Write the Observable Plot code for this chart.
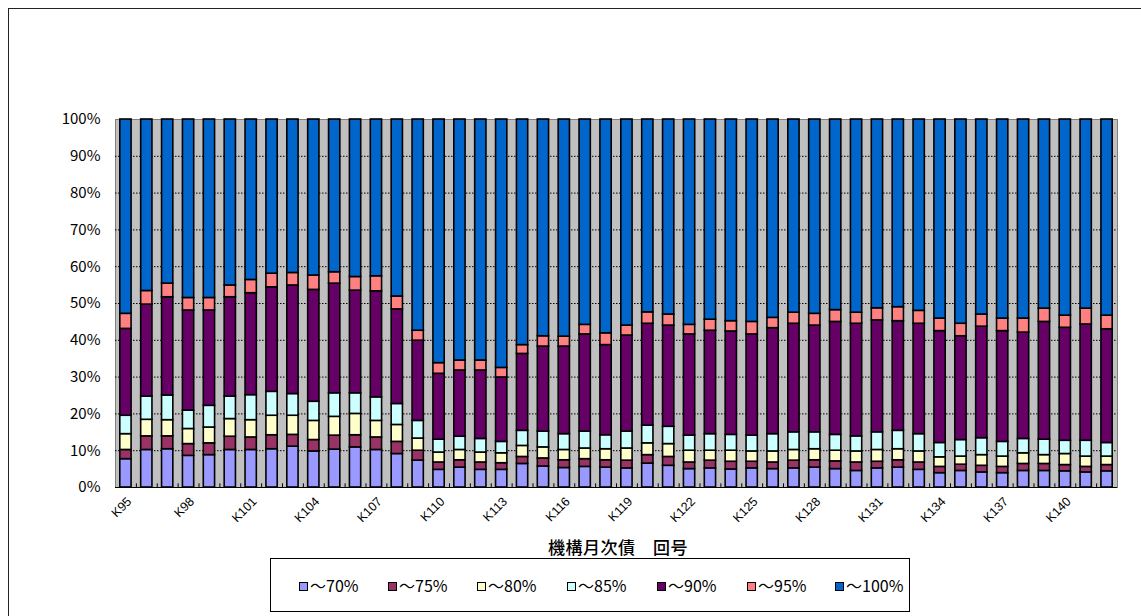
<!DOCTYPE html>
<html>
<head>
<meta charset="utf-8">
<script src="https://cdn.jsdelivr.net/npm/d3@7"></script>
<script src="https://cdn.jsdelivr.net/npm/@observablehq/plot@0.6"></script>
<style>
  html, body { margin:0; padding:0; background:#fff; overflow:hidden; }
  #wrap { position:relative; width:1141px; height:616px; overflow:hidden; }
  #border { position:absolute; left:8px; top:8px; width:1300px; height:800px; border:1px solid #222; box-sizing:border-box; }
  #chart { position:absolute; left:0; top:0; }
  #xtitle { position:absolute; left:418px; width:400px; top:534px; text-align:center;
            font-family:"Noto Sans CJK JP", sans-serif; font-size:17px; font-weight:500; color:#000; letter-spacing:0.5px; }
  #legend { position:absolute; left:270px; top:558px; width:640px; height:54px; border:1px solid #000; box-sizing:border-box; background:#fff; }
  .item { position:absolute; top:16px; font-family:"Noto Sans CJK JP", sans-serif; font-size:16px; color:#000; white-space:nowrap; line-height:20px; }
  .sw { display:inline-block; width:7px; height:7px; border:1px solid #000; margin-right:2px; vertical-align:1px; }
  text.xlab { transform-box: fill-box; transform-origin: 100% 50%; transform: rotate(-45deg); }
</style>
</head>
<body>
<div id="wrap">
  <div id="border"></div>
  <div id="chart"></div>
  <div id="xtitle">機構月次債　回号</div>
  <div id="legend"></div>
</div>
<script>
const categories = ["K95","K96","K97","K98","K99","K100","K101","K102","K103","K104","K105","K106","K107","K108","K109","K110","K111","K112","K113","K114","K115","K116","K117","K118","K119","K120","K121","K122","K123","K124","K125","K126","K127","K128","K129","K130","K131","K132","K133","K134","K135","K136","K137","K138","K139","K140","K141","K142"];
const labeledTicks = ["K95","K98","K101","K104","K107","K110","K113","K116","K119","K122","K125","K128","K131","K134","K137","K140"];
const seriesNames = ["～70%","～75%","～80%","～85%","～90%","～95%","～100%"];
const seriesColors = ["#9999FF","#993366","#FFFFCC","#CCFFFF","#660066","#FF8080","#0066CC"];
const yTicks = [0,10,20,30,40,50,60,70,80,90,100];

// cumulative shares (%): top edge of each band
const upTo70 = [7.7,10.2,10.4,8.6,8.8,10.2,10.2,10.4,11.1,9.8,10.3,10.9,10.2,9.1,7.3,4.8,5.4,4.8,4.8,6.4,5.7,5.3,5.6,5.4,5.2,6.5,5.9,5.0,5.2,4.9,5.2,5.0,5.2,5.4,5.0,4.5,5.2,5.4,4.8,3.9,4.5,4.1,3.9,4.5,4.5,4.4,4.1,4.4];
const upTo75 = [10.2,13.9,13.9,11.8,12.0,13.8,13.6,14.2,14.3,12.9,14.1,14.2,13.6,12.4,10.0,6.8,7.4,6.8,6.6,8.3,7.9,7.4,7.7,7.4,7.3,8.8,8.3,6.8,7.3,7.0,7.0,6.8,7.3,7.4,7.1,6.8,7.0,7.4,6.8,5.6,6.2,5.9,5.6,6.4,6.4,6.1,5.6,6.1];
const upTo80 = [14.5,18.4,18.3,15.9,16.3,18.6,18.3,19.5,19.5,18.1,19.2,20.0,18.1,17.0,13.3,9.5,10.2,9.5,9.3,11.3,10.9,10.2,10.6,10.4,10.6,12.0,11.8,10.0,10.0,10.0,9.8,9.8,10.2,10.4,10.0,9.8,10.2,10.4,9.8,8.2,8.4,8.8,8.4,9.3,8.8,9.1,8.4,8.4];
const upTo85 = [19.5,24.7,25.0,20.9,22.2,24.7,25.1,26.0,25.4,23.3,25.6,25.6,24.5,22.7,18.1,13.0,13.8,13.2,12.4,15.4,15.2,14.5,15.2,14.2,15.2,16.8,16.5,14.1,14.5,14.3,14.1,14.5,15.0,15.0,14.3,13.9,15.0,15.4,14.5,12.1,12.9,13.4,12.4,13.2,13.0,12.7,12.7,12.1];
const upTo90 = [43.1,49.7,51.7,48.1,48.1,51.7,52.8,54.4,54.9,53.7,55.4,53.5,53.3,48.4,39.9,30.9,31.8,31.8,29.9,36.3,38.3,38.3,41.6,38.7,41.3,44.5,44.0,41.6,42.6,42.4,41.6,43.3,44.5,44.0,45.0,44.5,45.4,45.2,44.5,42.5,41.1,43.7,42.5,42.1,45.0,43.4,44.3,43.0];
const upTo95 = [47.2,53.4,55.4,51.5,51.5,54.9,56.4,58.1,58.3,57.6,58.5,57.2,57.4,51.9,42.6,33.8,34.5,34.5,32.5,38.7,41.1,41.0,44.2,41.9,44.0,47.6,47.0,44.2,45.6,45.2,45.0,46.1,47.5,47.2,48.2,47.5,48.7,49.0,48.0,45.9,44.5,47.0,45.9,45.9,48.6,46.7,48.6,46.7];
const upTo100 = categories.map(() => 100);

const cumulative = [upTo70, upTo75, upTo80, upTo85, upTo90, upTo95, upTo100];
const rows = [];
categories.forEach((k, i) => {
  let lo = 0;
  cumulative.forEach((arr, s) => {
    rows.push({k, s: seriesNames[s], lo, hi: arr[i]});
    lo = arr[i];
  });
});

const W = 1141, H = 540, mL = 115, mR = 24;
const step = (W - mL - mR) / categories.length;

const chart = Plot.plot({
  width: W, height: H,
  marginLeft: mL, marginRight: mR, marginTop: 119, marginBottom: 53,
  style: {background: "transparent", color: "#000", fontFamily: "'Liberation Sans', Arial, sans-serif"},
  x: {domain: categories, paddingInner: 0.46, paddingOuter: 0.23, axis: null},
  y: {domain: [0, 100], axis: null},
  color: {domain: seriesNames, range: seriesColors},
  marks: [
    Plot.frame({fill: "#C0C0C0", stroke: "#808080"}),
    Plot.ruleY(yTicks.filter(d => d > 0 && d < 100), {stroke: "#000", strokeDasharray: "1.5,1.5", strokeWidth: 1}),
    Plot.barY(rows, {x: "k", y1: "lo", y2: "hi", fill: "s", stroke: "#000", strokeWidth: 1.6}),
    Plot.ruleY([0], {stroke: "#000", strokeWidth: 1}),
    Plot.ruleX(categories.slice(0, -1), {x: d => d, y1: 0, y2: 1, dx: step / 2, stroke: "#000"}),
    Plot.axisY({ticks: yTicks, tickFormat: d => d + "%", tickSize: 0, tickPadding: 15, fontSize: 15,
                fontFamily: "'Noto Sans CJK JP', sans-serif", label: null}),
    Plot.text(labeledTicks, {x: d => d, y: 0, text: d => d, textAnchor: "end",
                fontSize: 12.5, fill: "#000", fontFamily: "'Liberation Sans', Arial, sans-serif"})
  ]
});
document.getElementById("chart").appendChild(chart);

// place the category labels at their anchor (from Plot's scales) and rotate them -45° with CSS
const xs = chart.scale("x"), ys = chart.scale("y");
const half = (xs.bandwidth || 0) / 2;
d3.select(chart).selectAll("text").each(function () {
  const label = this.textContent;
  if (!labeledTicks.includes(label)) return;
  const px = xs.apply(label) + half + 4;
  const py = ys.apply(0) + 12;
  this.removeAttribute("transform");
  this.removeAttribute("dx");
  this.setAttribute("x", px);
  this.setAttribute("y", py);
  this.setAttribute("dy", "0.35em");
  this.setAttribute("text-anchor", "end");
  this.setAttribute("class", "xlab");
  if (this.parentNode && this.parentNode.tagName === "g" && this.parentNode.getAttribute("transform")) {
    this.parentNode.removeAttribute("transform");
  }
});

const legend = document.getElementById("legend");
const legendLeft = [28, 117, 206, 296, 386, 476, 564];
seriesNames.forEach((name, i) => {
  const it = document.createElement("div");
  it.className = "item";
  it.style.left = legendLeft[i] + "px";
  const sw = document.createElement("span");
  sw.className = "sw";
  sw.style.background = seriesColors[i];
  it.appendChild(sw);
  it.appendChild(document.createTextNode(name));
  legend.appendChild(it);
});
</script>
</body>
</html>
